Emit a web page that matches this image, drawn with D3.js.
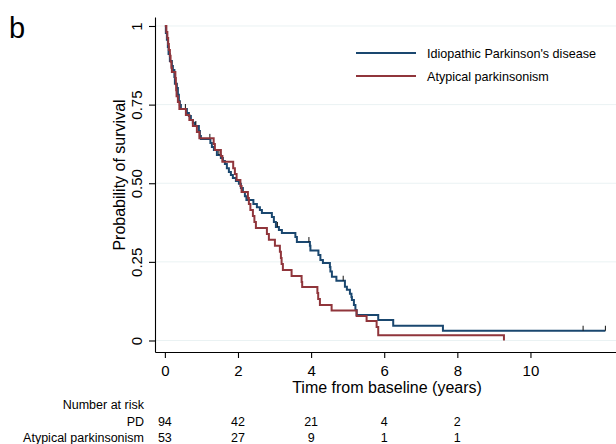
<!DOCTYPE html>
<html>
<head>
<meta charset="utf-8">
<script src="https://cdn.jsdelivr.net/npm/d3@7"></script>
<style>
    body { margin: 0; background: #fff; }
    svg text { font-family: "Liberation Sans", Arial, sans-serif; fill: #000; }
</style>
</head>
<body>
<svg id="chart" width="616" height="444"></svg>
<script>
// Kaplan-Meier steps: time (years) and survival after each drop
const pdTimes = [0, 0.027, 0.055, 0.082, 0.101, 0.137, 0.192, 0.219, 0.260, 0.274, 0.328, 0.356, 0.383, 0.410, 0.438,
    0.602, 0.657, 0.711, 0.766, 0.821, 0.930, 0.958, 0.985, 1.245, 1.286, 1.341, 1.423,
    1.532, 1.587, 1.642, 1.696, 1.751, 1.806, 1.860, 1.943, 2.025, 2.079, 2.134, 2.189, 2.230,
    2.421, 2.517, 2.599, 2.654, 2.927, 2.982, 3.037, 3.119, 3.201, 3.570, 3.611,
    3.967, 3.981, 4.200, 4.254, 4.323, 4.514, 4.528, 4.569, 4.692,
    4.925, 4.979, 5.062, 5.103, 5.116, 5.171, 5.212, 5.245, 5.836, 6.246, 7.606];
const pdSurv = [1, 0.978, 0.956, 0.933, 0.911, 0.889, 0.873, 0.860, 0.838, 0.816, 0.803, 0.781, 0.761, 0.749, 0.736,
    0.723, 0.714, 0.701, 0.692, 0.682, 0.666, 0.650, 0.641, 0.628, 0.615, 0.606, 0.590,
    0.580, 0.571, 0.561, 0.548, 0.536, 0.526, 0.517, 0.507, 0.498, 0.485, 0.472, 0.459, 0.447,
    0.434, 0.424, 0.415, 0.405, 0.393, 0.377, 0.361, 0.351, 0.342, 0.329, 0.313,
    0.301, 0.286, 0.272, 0.256, 0.246, 0.234, 0.219, 0.203, 0.190,
    0.171, 0.161, 0.149, 0.138, 0.129, 0.113, 0.097, 0.081, 0.065, 0.047, 0.031];
const pdCensored = [0.561, 0.848, 1.231, 1.477, 3.078, 3.940, 4.878, 11.44, 12.05];
const pdEnd = 12.05;

const apTimes = [0, 0.041, 0.068, 0.090, 0.109, 0.137, 0.156, 0.178, 0.192, 0.287, 0.301, 0.309, 0.320, 0.356, 0.397,
    0.575, 0.670, 0.766, 0.876, 0.944, 1.335, 1.368, 1.532, 1.573, 1.869, 1.915, 1.962,
    2.066, 2.098, 2.271, 2.298, 2.339, 2.408, 2.449, 2.490, 2.791, 2.845,
    3.010, 3.146, 3.174, 3.193, 3.228, 3.466, 3.740, 3.756,
    4.172, 4.194, 4.241, 4.561, 5.245, 5.518, 5.792, 5.836, 9.275];
const apSurv = [1, 0.981, 0.962, 0.943, 0.924, 0.905, 0.886, 0.867, 0.854, 0.835, 0.815, 0.796, 0.777, 0.758, 0.736,
    0.717, 0.701, 0.682, 0.663, 0.643, 0.625, 0.606, 0.587, 0.568, 0.548, 0.529, 0.510,
    0.491, 0.472, 0.453, 0.434, 0.415, 0.396, 0.377, 0.358, 0.339, 0.320,
    0.301, 0.282, 0.262, 0.243, 0.224, 0.205, 0.186, 0.170,
    0.151, 0.132, 0.113, 0.095, 0.078, 0.062, 0.043, 0.017, 0];
const apCensored = [];
const apEnd = 9.275;

const xTicks = [0, 2, 4, 6, 8, 10];
const yTicks = [0, 0.25, 0.5, 0.75, 1];
const yTickLabels = ["0", "0.25", "0.50", "0.75", "1"];

const riskTimes = [0, 2, 4, 6, 8];
const riskPD = [94, 42, 21, 4, 2];
const riskAP = [53, 27, 9, 1, 1];

const groups = [
    { name: "Idiopathic Parkinson's disease", short: "PD", times: pdTimes, surv: pdSurv, cens: pdCensored, end: pdEnd, risk: riskPD, color: "#1a476f" },
    { name: "Atypical parkinsonism", short: "Atypical parkinsonism", times: apTimes, surv: apSurv, cens: apCensored, end: apEnd, risk: riskAP, color: "#90353b" }
];

const svg = d3.select("#chart");
const x = d3.scaleLinear().domain([-0.27, 12.34]).range([155, 616]);
const y = d3.scaleLinear().domain([-0.0366, 1.0286]).range([352, 17]);

// panel letter
svg.append("text").attr("x", 9).attr("y", 38).attr("font-size", 29).text("b");

// gridlines
svg.append("g").selectAll("line")
    .data(yTicks)
    .enter().append("line")
    .attr("x1", 155).attr("x2", 616)
    .attr("y1", d => y(d)).attr("y2", d => y(d))
    .attr("stroke", "#eaf2f3").attr("stroke-width", 1);

// curves
const line = d3.line().x(d => x(d[0])).y(d => y(d[1])).curve(d3.curveStepAfter);

groups.forEach(g => {
    const pts = g.times.map((t, i) => [t, g.surv[i]]);
    pts.push([g.end, g.surv[g.surv.length - 1]]);
    svg.append("path")
        .attr("d", line(pts))
        .attr("fill", "none")
        .attr("stroke", g.color)
        .attr("stroke-width", 2);

    const survAt = t => {
        let s = 1;
        g.times.forEach((tt, i) => { if (tt <= t) s = g.surv[i]; });
        return s;
    };
    svg.append("g").selectAll("line")
        .data(g.cens)
        .enter().append("line")
        .attr("x1", d => x(d)).attr("x2", d => x(d))
        .attr("y1", d => y(survAt(d))).attr("y2", d => y(survAt(d)) - 5)
        .attr("stroke", "#111").attr("stroke-width", 1);
});

// axes
const xAxis = svg.append("g")
    .attr("transform", "translate(0,352)")
    .call(d3.axisBottom(x).tickValues(xTicks).tickSize(6).tickPadding(7).tickSizeOuter(0));
xAxis.selectAll("text").attr("font-size", 15);

const yAxis = svg.append("g")
    .attr("transform", "translate(155,0)")
    .call(d3.axisLeft(y).tickValues(yTicks).tickSize(6).tickSizeOuter(0)
        .tickFormat((d, i) => yTickLabels[i]));
yAxis.selectAll("text")
    .attr("x", 0).attr("dy", 0)
    .attr("text-anchor", "middle")
    .attr("font-size", 15)
    .attr("transform", "translate(-13,0) rotate(-90)");

svg.selectAll(".domain, .tick line").attr("stroke", "#000").attr("stroke-width", 1.1);
svg.selectAll(".tick text").attr("font-family", "Liberation Sans, Arial, sans-serif").attr("fill", "#000");

svg.append("text")
    .attr("transform", "translate(125,175) rotate(-90)")
    .attr("text-anchor", "middle")
    .attr("font-size", 16)
    .text("Probability of survival");

svg.append("text")
    .attr("x", 387).attr("y", 393)
    .attr("text-anchor", "middle")
    .attr("font-size", 16)
    .text("Time from baseline (years)");

// legend
const legend = svg.append("g");
groups.forEach((g, i) => {
    const ly = 53 + i * 23;
    legend.append("line")
        .attr("x1", 356).attr("x2", 416)
        .attr("y1", ly).attr("y2", ly)
        .attr("stroke", g.color).attr("stroke-width", 2);
    legend.append("text")
        .attr("x", 427).attr("y", ly + 4.5)
        .attr("font-size", 12.6)
        .text(g.name);
});

// number at risk table
svg.append("text")
    .attr("x", 144).attr("y", 409)
    .attr("text-anchor", "end")
    .attr("font-size", 12.5)
    .text("Number at risk");

groups.forEach((g, i) => {
    const ry = 426 + i * 16;
    svg.append("text")
        .attr("x", 144).attr("y", ry)
        .attr("text-anchor", "end")
        .attr("font-size", 12.5)
        .text(g.short);
    svg.append("g").selectAll("text")
        .data(g.risk)
        .enter().append("text")
        .attr("x", (d, j) => x(riskTimes[j]))
        .attr("y", ry)
        .attr("text-anchor", "middle")
        .attr("font-size", 12.5)
        .text(d => d);
});
</script>
</body>
</html>
